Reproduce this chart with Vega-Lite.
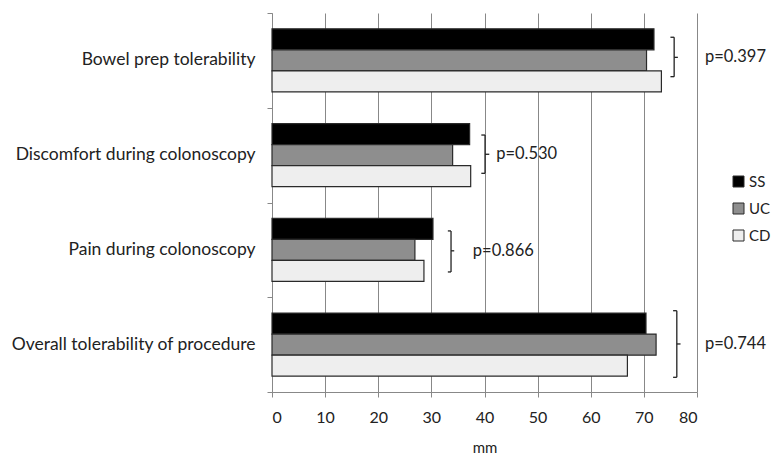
{
  "$schema": "https://vega.github.io/schema/vega-lite/v6.json",
  "autosize": {"type": "none"},
  "width": 425,
  "height": 379,
  "padding": {"left": 272, "top": 13, "right": 77, "bottom": 63},
  "background": "white",
  "config": {
    "view": {"stroke": null},
    "font": "Lato",
    "axis": {"labelFont": "Lato", "titleFont": "Lato", "labelColor": "#222", "titleColor": "#222"}
  },
  "datasets": {
    "bars": [
      {"item": "Bowel prep tolerability", "group": "SS", "mm": 71.9},
      {"item": "Bowel prep tolerability", "group": "UC", "mm": 70.5},
      {"item": "Bowel prep tolerability", "group": "CD", "mm": 73.3},
      {"item": "Discomfort during colonoscopy", "group": "SS", "mm": 37.2},
      {"item": "Discomfort during colonoscopy", "group": "UC", "mm": 34.0},
      {"item": "Discomfort during colonoscopy", "group": "CD", "mm": 37.4},
      {"item": "Pain during colonoscopy", "group": "SS", "mm": 30.3},
      {"item": "Pain during colonoscopy", "group": "UC", "mm": 26.9},
      {"item": "Pain during colonoscopy", "group": "CD", "mm": 28.6},
      {"item": "Overall tolerability of procedure", "group": "SS", "mm": 70.4},
      {"item": "Overall tolerability of procedure", "group": "UC", "mm": 72.3},
      {"item": "Overall tolerability of procedure", "group": "CD", "mm": 66.9}
    ],
    "brackets": [
      {"p": "p=0.397", "bx": 75.7, "serif": 75.0, "nub": 76.4, "top": 0.256, "bottom": 0.672, "mid": 0.468, "tx": 81.5},
      {"p": "p=0.530", "bx": 40.1, "serif": 39.4, "nub": 40.9, "top": 1.288, "bottom": 1.692, "mid": 1.491, "tx": 42.2},
      {"p": "p=0.866", "bx": 33.7, "serif": 33.1, "nub": 34.3, "top": 2.30, "bottom": 2.733, "mid": 2.51, "tx": 37.8},
      {"p": "p=0.744", "bx": 76.2, "serif": 75.5, "nub": 76.9, "top": 3.142, "bottom": 3.845, "mid": 3.493, "tx": 81.5}
    ]
  },
  "layer": [
    {
      "data": {"name": "bars"},
      "mark": {"type": "bar", "stroke": "#2a2a2a", "strokeWidth": 1.2},
      "encoding": {
        "y": {
          "field": "item", "type": "nominal",
          "sort": ["Bowel prep tolerability", "Discomfort during colonoscopy", "Pain during colonoscopy", "Overall tolerability of procedure"],
          "scale": {"paddingInner": 0.335, "paddingOuter": 0.1675},
          "axis": {
            "title": null, "ticks": false, "labelFontSize": 17.5, "labelPadding": 17,
            "domainColor": "#888", "labelLimit": 300
          }
        },
        "yOffset": {"field": "group", "type": "nominal", "sort": ["SS", "UC", "CD"], "scale": {"paddingInner": 0, "paddingOuter": 0}},
        "x": {
          "field": "mm", "type": "quantitative",
          "scale": {"domain": [0, 80], "nice": false},
          "axis": {
            "title": "mm", "values": [0, 10, 20, 30, 40, 50, 60, 70, 80], "grid": true,
            "gridColor": "#888", "gridOpacity": 1, "tickColor": "#888", "domainColor": "#888",
            "tickSize": 5, "labelFontSize": 16, "labelPadding": 12, "titleFontSize": 15,
            "titleFontWeight": "normal", "titlePadding": 15
          }
        },
        "color": {
          "field": "group", "type": "nominal",
          "scale": {"domain": ["SS", "UC", "CD"], "range": ["#000000", "#8e8e8e", "#eeeeee"]},
          "legend": {
            "title": null, "orient": "none", "legendX": 459, "legendY": 161,
            "symbolType": "square", "symbolSize": 121, "symbolStrokeColor": "#2a2a2a", "symbolStrokeWidth": 1,
            "labelFontSize": 15, "labelFont": "Lato", "labelColor": "#222", "rowPadding": 11, "labelOffset": 3
          }
        }
      }
    },
    {
      "data": {"name": "brackets"},
      "layer": [
        {
          "mark": {"type": "rule", "color": "#222", "strokeWidth": 1.3},
          "encoding": {
            "x": {"field": "bx", "type": "quantitative"},
            "y": {
              "field": "top", "type": "quantitative",
              "scale": {"domain": [0, 4], "reverse": true, "nice": false, "zero": false},
              "axis": {"orient": "left", "values": [0, 1, 2, 3, 4], "labels": false, "domain": false, "grid": false, "ticks": true, "tickSize": 5, "tickColor": "#888", "title": null}
            },
            "y2": {"field": "bottom"}
          }
        },
        {
          "mark": {"type": "rule", "color": "#222", "strokeWidth": 1.3},
          "encoding": {
            "x": {"field": "serif", "type": "quantitative"},
            "x2": {"field": "bx"},
            "y": {"field": "top", "type": "quantitative"}
          }
        },
        {
          "mark": {"type": "rule", "color": "#222", "strokeWidth": 1.3},
          "encoding": {
            "x": {"field": "serif", "type": "quantitative"},
            "x2": {"field": "bx"},
            "y": {"field": "bottom", "type": "quantitative"}
          }
        },
        {
          "mark": {"type": "rule", "color": "#222", "strokeWidth": 1.3},
          "encoding": {
            "x": {"field": "bx", "type": "quantitative"},
            "x2": {"field": "nub"},
            "y": {"field": "mid", "type": "quantitative"}
          }
        },
        {
          "mark": {"type": "text", "align": "left", "baseline": "middle", "fontSize": 16.5, "font": "Lato", "color": "#222"},
          "encoding": {
            "x": {"field": "tx", "type": "quantitative"},
            "y": {"field": "mid", "type": "quantitative"},
            "text": {"field": "p"}
          }
        }
      ]
    }
  ],
  "resolve": {"scale": {"y": "independent"}}
}
